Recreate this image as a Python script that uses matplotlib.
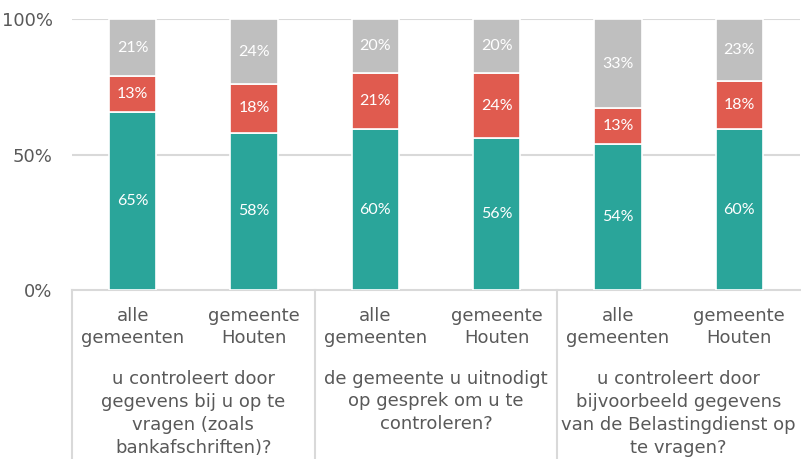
import matplotlib
matplotlib.use("Agg")
import matplotlib.pyplot as plt
import numpy as np
from matplotlib.transforms import blended_transform_factory

categories = ["alle\ngemeenten", "gemeente\nHouten"] * 3
groups = ["u controleert door\ngegevens bij u op te\nvragen (zoals\nbankafschriften)?",
          "de gemeente u uitnodigt\nop gesprek om u te\ncontroleren?",
          "u controleert door\nbijvoorbeeld gegevens\nvan de Belastingdienst op\nte vragen?"]
green = [65, 58, 60, 56, 54, 60]
red = [13, 18, 21, 24, 13, 18]
grey = [21, 24, 20, 20, 33, 23]
yticks = [0, 50, 100]
ytick_labels = ["0%", "50%", "100%"]

c_green = "#2aa59a"
c_red = "#e05b4f"
c_grey = "#bfbfbf"
txt = "#595959"
linec = "#d9d9d9"
font = "DejaVu Sans"

fig = plt.figure(figsize=(8.01, 4.59), dpi=100)
ax = fig.add_axes([72/801, 1-290/459, 728/801, 271/459])

g = np.array(green, float); r = np.array(red, float); gr = np.array(grey, float)
tot = g + r + gr
gp, rp, grp = g/tot*100, r/tot*100, gr/tot*100
x = np.arange(len(categories))
w = 0.39
ax.bar(x, gp, w, color=c_green, edgecolor="white", linewidth=1.2, zorder=3)
ax.bar(x, rp, w, bottom=gp, color=c_red, edgecolor="white", linewidth=1.2, zorder=3)
ax.bar(x, grp, w, bottom=gp+rp, color=c_grey, edgecolor="white", linewidth=1.2, zorder=3)

for i in x:
    for val, b, h in [(green[i], 0, gp[i]), (red[i], gp[i], rp[i]), (grey[i], gp[i]+rp[i], grp[i])]:
        ax.text(i, b + h/2, f"{val}%", ha="center", va="center", color="white",
                fontsize=11.5, family="Lato", zorder=4)

ax.set_xlim(-0.5, 5.5)
ax.set_ylim(0, 100)
ax.set_yticks(yticks)
ax.set_yticklabels(ytick_labels, family=font, fontsize=13, color=txt)
ax.tick_params(axis="y", length=0, pad=14)
ax.set_xticks([])
for s in ["top", "right", "left"]:
    ax.spines[s].set_visible(False)
ax.spines["bottom"].set_color(linec)
ax.spines["bottom"].set_linewidth(1.5)
for yv in [50, 100]:
    ax.axhline(yv, color=linec, lw=1.5, zorder=1)

trans = blended_transform_factory(ax.transData, ax.transAxes)
axh = 271
for i, c in enumerate(categories):
    ax.text(i, -(327-290)/axh, c, transform=trans, ha="center", va="center",
            family=font, fontsize=13, color=txt, linespacing=1.3)
for j, gname in enumerate(groups):
    nlines = gname.count("\n") + 1
    ycenter = 377 + (nlines-1)*24.3/2
    ax.text(2*j + 0.5, -(ycenter-290)/axh, gname, transform=trans, ha="center", va="center",
            family=font, fontsize=13, color=txt, linespacing=1.34)
for xb in [-0.5, 1.5, 3.5]:
    ax.plot([xb, xb], [0, -(459-290)/axh], transform=trans, color=linec, lw=1.5, clip_on=False)

fig.savefig("out.png", dpi=100)
